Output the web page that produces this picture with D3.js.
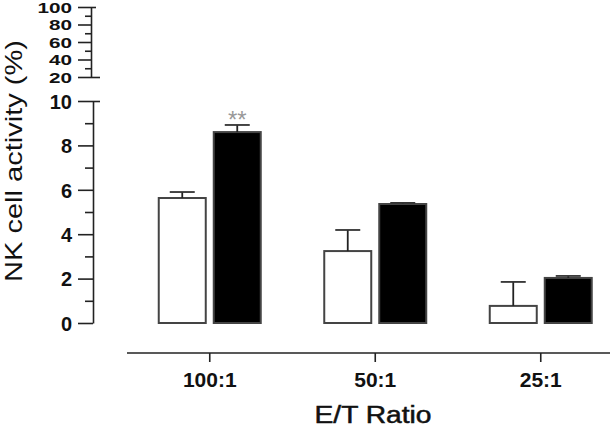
<!DOCTYPE html>
<html>
<head>
  <meta charset="UTF-8">
  <style>
    body { margin: 0; padding: 0; background: #fff; }
    svg { display: block; }
    text { font-family: Arial, "Liberation Sans", sans-serif; fill: #111; }
  </style>
</head>
<body>
<svg width="610" height="432"></svg>
<script src="https://d3js.org/d3.v7.min.js"></script>
<script>
// data
let ratios = ["100:1", "50:1", "25:1"];
let groups = ["control", "treated"];
let controlMean = [5.63, 3.24, 0.77];
let controlErr  = [0.27, 0.95, 1.08];
let treatedMean = [8.6, 5.36, 2.03];
let treatedErr  = [0.32, 0.05, 0.09];
let stars = ["**", "", ""];
let lowTicks = [0, 2, 4, 6, 8, 10];
let highTicks = [20, 40, 60, 80, 100];

let svg = d3.select("svg");

let rows = ratios.map((r, i) => ({
    ratio: r,
    star: stars[i],
    bars: [
        { key: "control", mean: controlMean[i], err: controlErr[i] },
        { key: "treated", mean: treatedMean[i], err: treatedErr[i] }
    ]
}));

// scales
let x0 = d3.scaleBand().domain(ratios).range([127, 623.5]);
let mid = x0.bandwidth() / 2;
let x1 = d3.scaleBand().domain(groups).range([mid - 51, mid + 51]).paddingInner(8 / 55);
let y = d3.scaleLinear().domain([0, 10]).range([323, 101]);
let yHigh = d3.scaleLinear().domain([20, 100]).range([77, 7]);

// lower y axis
let axLow = svg.append("g").attr("transform", "translate(93,0)");
axLow.call(d3.axisLeft(y).tickValues(d3.range(0, 11, 1)).tickSize(0).tickFormat(""));
axLow.select(".domain").attr("stroke", "#222").attr("stroke-width", 1.6);
axLow.selectAll(".tick line")
    .attr("x2", d => d % 2 === 0 ? -15 : -8)
    .attr("stroke", "#222").attr("stroke-width", 1.6);
axLow.selectAll(".tick").filter(d => d === 10).append("line")
    .attr("x2", 7).attr("stroke", "#222").attr("stroke-width", 1.6);
axLow.selectAll(".tick").filter(d => lowTicks.includes(d)).append("text")
    .attr("x", -21).attr("dy", "0.36em")
    .attr("text-anchor", "end")
    .style("font-size", "20px").style("font-weight", "bold")
    .text(d => d);

// upper (broken) y axis
let axHigh = svg.append("g").attr("transform", "translate(91,0)");
axHigh.call(d3.axisLeft(yHigh).tickValues(d3.range(20, 101, 10)).tickSize(0).tickFormat(""));
axHigh.select(".domain").attr("stroke", "#222").attr("stroke-width", 1.6);
axHigh.selectAll(".tick line")
    .attr("x2", d => d % 20 === 0 ? -13 : -6)
    .attr("stroke", "#222").attr("stroke-width", 1.6);
axHigh.selectAll(".tick").filter(d => d === 20 || d === 100).append("line")
    .attr("x2", d => d === 20 ? 9 : 5).attr("stroke", "#222").attr("stroke-width", 1.6);
axHigh.selectAll(".tick").filter(d => highTicks.includes(d)).append("text")
    .attr("x", -19).attr("dy", "0.36em")
    .attr("text-anchor", "end")
    .attr("textLength", d => String(d).length * 11.5)
    .attr("lengthAdjust", "spacingAndGlyphs")
    .style("font-size", "15px").style("font-weight", "bold")
    .text(d => d);

// y title
svg.append("text")
    .attr("transform", "translate(22,161) rotate(-90)")
    .attr("text-anchor", "middle")
    .attr("textLength", 242)
    .attr("lengthAdjust", "spacingAndGlyphs")
    .style("font-size", "24px")
    .text("NK cell activity (%)");

// x axis
let axX = svg.append("g").attr("transform", "translate(0,353)");
axX.call(d3.axisBottom(x0).tickSize(9).tickSizeOuter(0));
axX.select(".domain").attr("d", "M127,0H610").attr("stroke", "#222").attr("stroke-width", 1.6);
axX.selectAll(".tick line").attr("stroke", "#222").attr("stroke-width", 1.6);
axX.selectAll(".tick text")
    .attr("y", 34).attr("dy", 0)
    .attr("fill", "#111")
    .style("font-size", "21px").style("font-weight", "bold");

svg.append("text")
    .attr("x", 373).attr("y", 423)
    .attr("text-anchor", "middle")
    .attr("textLength", 117)
    .attr("lengthAdjust", "spacingAndGlyphs")
    .attr("stroke", "#111").attr("stroke-width", 0.5)
    .style("font-size", "23px")
    .text("E/T Ratio");

// bars
let g = svg.selectAll(".grp")
    .data(rows)
    .enter().append("g")
    .attr("transform", d => "translate(" + x0(d.ratio) + ",0)");

g.selectAll("rect")
    .data(d => d.bars)
    .enter().append("rect")
    .attr("x", d => x1(d.key))
    .attr("y", d => y(d.mean))
    .attr("width", x1.bandwidth())
    .attr("height", d => y(0) - y(d.mean))
    .attr("fill", d => d.key === "control" ? "#fff" : "#000")
    .attr("stroke", "#444")
    .attr("stroke-width", 2);

// error bars (upper only)
let eb = g.selectAll(".err")
    .data(d => d.bars)
    .enter().append("g")
    .attr("transform", d => "translate(" + (x1(d.key) + x1.bandwidth() / 2) + ",0)");
eb.append("line")
    .attr("y1", d => y(d.mean)).attr("y2", d => y(d.mean + d.err))
    .attr("stroke", "#222").attr("stroke-width", 1.8);
eb.append("line")
    .attr("x1", -12.5).attr("x2", 12.5)
    .attr("y1", d => y(d.mean + d.err)).attr("y2", d => y(d.mean + d.err))
    .attr("stroke", "#333").attr("stroke-width", 1.8);

// significance marks
g.append("text")
    .attr("x", x1("treated") + x1.bandwidth() / 2)
    .attr("y", d => y(d.bars[1].mean + d.bars[1].err) + 3)
    .attr("text-anchor", "middle")
    .style("font-size", "24px")
    .style("fill", "#999")
    .text(d => d.star);
</script>
</body>
</html>
